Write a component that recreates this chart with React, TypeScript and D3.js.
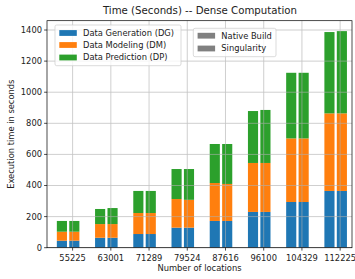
import React, {useEffect, useRef} from 'react';
import * as d3 from 'd3';

const categories = ['55225', '63001', '71289', '79524', '87616', '96100', '104329', '112225'];

// Native build, seconds per stage
const nativeDG = [45, 64, 88, 129, 172, 230, 294, 365];
const nativeDM = [58, 88, 135, 184, 244, 315, 409, 499];
const nativeDP = [69, 97, 142, 193, 251, 334, 422, 523];

// Singularity container, seconds per stage
const singDG = [45, 64, 88, 129, 172, 230, 294, 365];
const singDM = [58, 88, 135, 179, 238, 315, 409, 499];
const singDP = [69, 103, 142, 198, 257, 341, 422, 529];

const yTicks = [0, 200, 400, 600, 800, 1000, 1200, 1400];

const stageNames = ['Data Generation (DG)', 'Data Modeling (DM)', 'Data Prediction (DP)'];
const buildNames = ['Native Build', 'Singularity'];
const colours = ['#1f77b4', '#ff7f0e', '#2ca02c'];

const App = () => {
    const ref = useRef<SVGSVGElement>(null);

    useEffect(() => {
        const W = 355, H = 279;
        const left = 47, right = 352, top = 20.7, bottom = 247.7;
        const fs = 8.33;
        const font = 'DejaVu Sans';

        const svg = d3.select(ref.current);
        svg.selectAll('*').remove();

        const x = d3.scaleLinear().domain([-0.67, 7.31]).range([left, right]);
        const y = d3.scaleLinear().domain([0, 1460]).range([bottom, top]);

        const keys = ['DG', 'DM', 'DP'];
        const builds = [
            {name: 'native', offset: -0.28, dg: nativeDG, dm: nativeDM, dp: nativeDP},
            {name: 'sing', offset: 0.045, dg: singDG, dm: singDM, dp: singDP},
        ];
        const barW = 0.265;

        svg.append('rect').attr('width', W).attr('height', H).attr('fill', 'white');

        builds.forEach((b) => {
            const rows = categories.map((c, i) => ({idx: i, DG: b.dg[i], DM: b.dm[i], DP: b.dp[i]}));
            const series = d3.stack<any>().keys(keys)(rows);
            series.forEach((s, k) => {
                svg.append('g')
                    .selectAll('rect')
                    .data(s)
                    .enter()
                    .append('rect')
                    .attr('x', (d: any) => x(d.data.idx + b.offset - barW / 2))
                    .attr('width', x(barW) - x(0))
                    .attr('y', (d) => y(d[1]))
                    .attr('height', (d) => y(d[0]) - y(d[1]))
                    .attr('fill', colours[k]);
            });
        });

        // grid on top of the bars
        const grid = svg.append('g').attr('stroke', '#b0b0b0').attr('stroke-width', 0.8).attr('opacity', 0.75);
        yTicks.forEach((t) => {
            grid.append('line').attr('x1', left).attr('x2', right).attr('y1', y(t)).attr('y2', y(t));
        });
        categories.forEach((c, i) => {
            grid.append('line').attr('x1', x(i)).attr('x2', x(i)).attr('y1', top).attr('y2', bottom);
        });

        // spines
        svg.append('rect')
            .attr('x', left).attr('y', top)
            .attr('width', right - left).attr('height', bottom - top)
            .attr('fill', 'none').attr('stroke', 'black').attr('stroke-width', 0.7);

        // y ticks
        yTicks.forEach((t) => {
            svg.append('line').attr('x1', left - 2.9).attr('x2', left).attr('y1', y(t)).attr('y2', y(t))
                .attr('stroke', 'black').attr('stroke-width', 0.7);
            svg.append('text')
                .attr('x', left - 5).attr('y', y(t)).attr('dy', '0.35em')
                .attr('text-anchor', 'end')
                .attr('font-family', font).attr('font-size', fs).attr('fill', '#222')
                .text(t);
        });

        // x ticks
        categories.forEach((c, i) => {
            svg.append('line').attr('x1', x(i)).attr('x2', x(i)).attr('y1', bottom).attr('y2', bottom + 2.9)
                .attr('stroke', 'black').attr('stroke-width', 0.7);
            svg.append('text')
                .attr('x', x(i)).attr('y', 260.5)
                .attr('text-anchor', 'middle')
                .attr('font-family', font).attr('font-size', fs).attr('fill', '#222')
                .text(c);
        });

        // title and axis labels
        svg.append('text')
            .attr('x', (left + right) / 2 + 0.5).attr('y', 14.3)
            .attr('text-anchor', 'middle')
            .attr('font-family', font).attr('font-size', 10.2).attr('fill', '#222')
            .text('Time (Seconds) -- Dense Computation');

        svg.append('text')
            .attr('x', (left + right) / 2).attr('y', 271)
            .attr('text-anchor', 'middle')
            .attr('font-family', font).attr('font-size', fs).attr('fill', '#222')
            .text('Number of locations');

        svg.append('text')
            .attr('transform', `translate(14, ${(top + bottom) / 2}) rotate(-90)`)
            .attr('text-anchor', 'middle')
            .attr('font-family', font).attr('font-size', fs).attr('fill', '#222')
            .text('Execution time in seconds');

        // legend boxes
        const legend = (bx, by, bw, bh, names, fills, rowY) => {
            const g = svg.append('g');
            g.append('rect')
                .attr('x', bx).attr('y', by).attr('width', bw).attr('height', bh)
                .attr('rx', 1.7)
                .attr('fill', 'white').attr('fill-opacity', 0.8)
                .attr('stroke', '#cccccc').attr('stroke-width', 0.7);
            names.forEach((n, i) => {
                g.append('rect')
                    .attr('x', bx + 4.3).attr('y', rowY[i] - 2.9)
                    .attr('width', 17.5).attr('height', 5.8)
                    .attr('fill', fills[i]);
                g.append('text')
                    .attr('x', bx + 28).attr('y', rowY[i]).attr('dy', '0.35em')
                    .attr('font-family', font).attr('font-size', fs).attr('fill', '#222')
                    .text(n);
            });
        };

        legend(55, 25, 126, 40.7, stageNames, colours, [33, 45, 57.5]);
        legend(193.3, 28.3, 82.7, 28.4, buildNames, ['#808080', '#808080'], [35.7, 48.5]);
    }, []);

    return (
        <svg ref={ref} width={355} height={279}
             style={{position: 'absolute', left: 0, top: 0}}/>
    );
};

export default App;
